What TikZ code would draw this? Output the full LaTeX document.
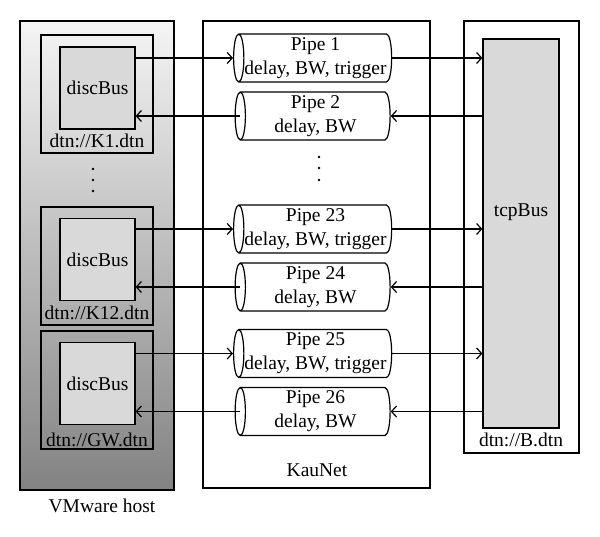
\documentclass[tikz,border=0pt]{standalone}
\usepackage{fontspec}
\setmainfont{Liberation Serif}
\usetikzlibrary{shapes.geometric,arrows.meta}

\begin{document}
\begin{tikzpicture}[x=1pt,y=1pt,
  every node/.style={font=\fontsize{19.5}{24}\selectfont},
  box/.style={draw,line width=1.2pt,rectangle,inner sep=0pt},
  bus/.style={box,fill=gray!30,minimum width=75pt,minimum height=82pt},
  grp/.style={box,minimum width=112pt,minimum height=118pt},
  pipe/.style={draw,line width=1.2pt,cylinder,shape border rotate=180,aspect=0.25,
    minimum height=155pt,minimum width=48pt,inner sep=0pt,align=center,fill=white},
  arr/.style={line width=1.2pt,-{Straight Barb[length=5pt,width=11pt]}}]

  \useasboundingbox (0,0) rectangle (600,-537);

  % VMware host
  \node[box,top color=gray!8,bottom color=gray!98,minimum width=154pt,minimum height=469pt] (vm) at (97,-255.5) {};
  \node (vml) at (102,-506) {VMware host};
  \node[grp] (g1) at (97,-94) {};
  \node[grp] (g2) at (97,-266) {};
  \node[grp] (g3) at (97,-390) {};
  \node[bus] (d1) at (97.5,-88) {discBus};
  \node[bus] (d2) at (97.5,-259.5) {discBus};
  \node[bus] (d3) at (97.5,-383.5) {discBus};
  \node (l1) at (97,-141) {dtn://K1.dtn};
  \node (l2) at (97,-313) {dtn://K12.dtn};
  \node (l3) at (97,-440) {dtn://GW.dtn};
  \foreach \y in {169,180,191} \fill (93,-\y) circle (1.3pt);

  % KauNet
  \node[box,minimum width=227pt,minimum height=467pt] (kn) at (316.5,-254.5) {};
  \node (knl) at (317,-470) {KauNet};
  \node[pipe] (p1) at (315.5,-58) {Pipe 1\\delay, BW, trigger};
  \node[pipe] (p2) at (315.5,-116) {Pipe 2\\delay, BW};
  \node[pipe] (p23) at (315.5,-229) {Pipe 23\\delay, BW, trigger};
  \node[pipe] (p24) at (315.5,-287) {Pipe 24\\delay, BW};
  \node[pipe] (p25) at (315.5,-353.5) {Pipe 25\\delay, BW, trigger};
  \node[pipe] (p26) at (315.5,-411.5) {Pipe 26\\delay, BW};
  \foreach \y in {157,168,180} \fill (319,-\y) circle (1.3pt);

  % B
  \node[box,minimum width=115pt,minimum height=432pt] (b) at (521.5,-237) {};
  \node[box,fill=gray!30,minimum width=76pt,minimum height=389pt] (t) at (521,-233.5) {};
  \node (tl) at (521,-212) {tcpBus};
  \node (bl) at (521,-440) {dtn://B.dtn};

  % connectors
  \draw[arr] (d1.east |- p1.center) -- (p1.top);
  \draw[arr] ([xshift=5.5pt]p2.top) -- (d1.east |- p2.center);
  \draw[arr] (d2.east |- p23.center) -- (p23.top);
  \draw[arr] ([xshift=5.5pt]p24.top) -- (d2.east |- p24.center);
  \draw[arr] (d3.east |- p25.center) -- (p25.top);
  \draw[arr] ([xshift=5.5pt]p26.top) -- (d3.east |- p26.center);
  \draw[arr] (p1.bottom) -- (t.west |- p1.center);
  \draw[arr] (t.west |- p2.center) -- (p2.bottom);
  \draw[arr] (p23.bottom) -- (t.west |- p23.center);
  \draw[arr] (t.west |- p24.center) -- (p24.bottom);
  \draw[arr] (p25.bottom) -- (t.west |- p25.center);
  \draw[arr] (t.west |- p26.center) -- (p26.bottom);
\end{tikzpicture}
\end{document}
